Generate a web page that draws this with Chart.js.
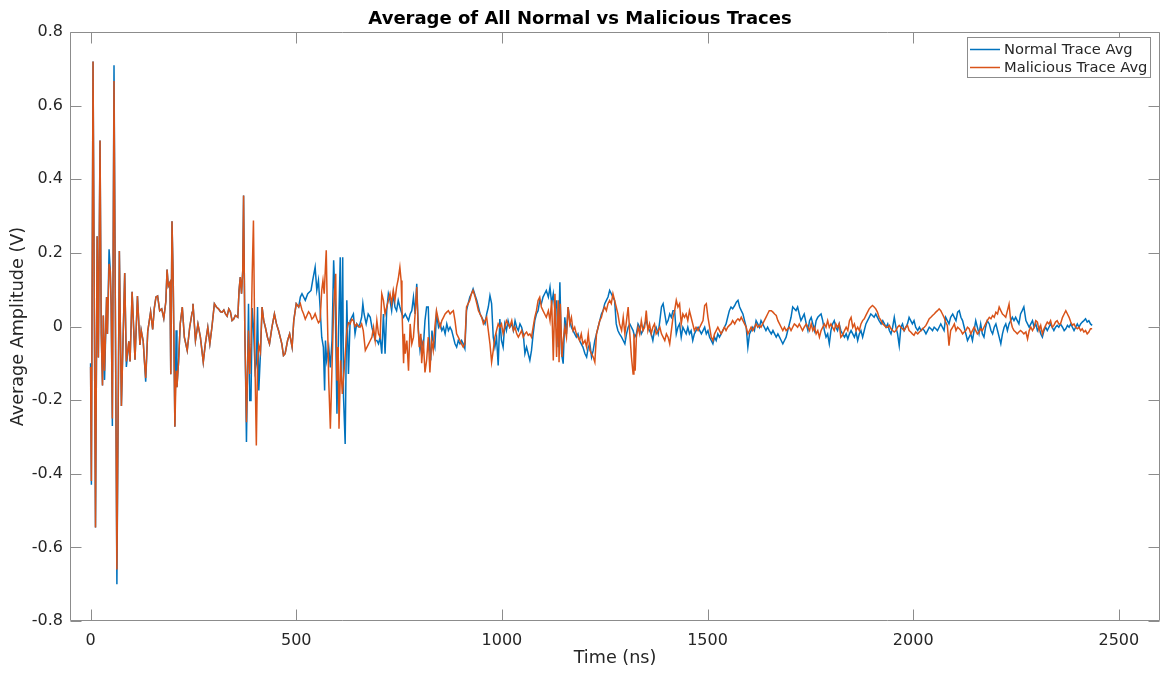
<!DOCTYPE html>
<html>
<head>
<meta charset="utf-8">
<script src="https://cdn.jsdelivr.net/npm/chart.js@4.4.0/dist/chart.umd.min.js"></script>
<style>
html,body{margin:0;padding:0;background:#fff;}
#wrap{width:1161px;height:675px;}
</style>
</head>
<body>
<div id="wrap"><canvas id="c" width="1161" height="675"></canvas></div>
<script>
const xTickValues = [0, 500, 1000, 1500, 2000, 2500];
const yTickValues = [-0.8, -0.6, -0.4, -0.2, 0, 0.2, 0.4, 0.6, 0.8];
const seriesNames = ['Normal Trace Avg', 'Malicious Trace Avg'];

// [time (ns), average amplitude (V)]
const normalTrace = [
[0,-0.10],[2,-0.43],[6,0.72],[12,-0.546],[16,0.245],[19,-0.084],[23,0.505],[26,-0.02],[29,-0.16],[31,0.03],[34,-0.145],[39,0.08],[41,-0.02],[45,0.21],[48,0.15],[50,0.06],[53,-0.27],[57,0.71],[64,-0.70],[70,0.205],[75,-0.216],[83,0.145],[87,-0.11],[93,-0.04],[96,-0.095],[101,0.094],[108,-0.09],[114,0.083],[120,-0.05],[123,-0.01],[128,-0.04],[131,-0.095],[134,-0.15],[139,-0.013],[146,0.04],[151,-0.008],[155,0.05],[159,0.08],[163,0.083],[168,0.043],[173,0.048],[178,0.022],[183,0.068],[186,0.155],[189,0.11],[193,0.12],[195,-0.13],[198,0.286],[201,0.12],[205,-0.272],[208,-0.01],[210,-0.165],[214,-0.095],
[218,0.007],[223,0.053],[228,-0.029],[235,-0.065],[241,-0.002],[247,0.039],[249,0.062],[255,-0.038],[261,0.007],[267,-0.029],[274,-0.097],[279,-0.047],[285,-0.002],[290,-0.047],[295,-0.002],[301,0.062],[306,0.053],[311,0.048],[316,0.04],[320,0.039],[324,0.045],[328,0.034],[332,0.028],[336,0.048],[340,0.04],[344,0.016],[348,0.02],[352,0.030],[358,0.025],[361,0.098],[364,0.134],[367,0.089],[370,0.152],[372,0.356],[375,-0.011],
[377,-0.147],[379,-0.314],[384,0.062],[387,-0.201],[390,-0.201],[393,0.05],[396,0.0],[400,-0.12],[403,-0.1],[406,0.053],[409,-0.174],[413,-0.074],[417,0.053],
[421,0.016],[425,-0.002],[430,-0.029],[435,-0.047],[441,-0.002],[447,0.034],[452,0.007],[457,-0.011],[461,-0.029],[465,-0.047],[469,-0.079],[473,-0.074],[479,-0.038],[484,-0.020],[490,-0.056],[494,0.016],[500,0.062],[506,0.053],
[510,0.080],[514,0.089],[522,0.071],[528,0.089],[536,0.098],[540,0.125],[546,0.161],[550,0.098],[554,0.125],[558,0.053],[562,-0.029],[566,-0.056],[569,-0.174],[571,-0.038],[574,-0.092],[579,-0.056],[583,-0.111],[587,-0.038],[591,0.180],[595,0.053],[599,-0.237],[603,-0.011],[607,0.188],[609,-0.129],[613,0.188],[615,-0.192],[619,-0.319],[623,0.071],[627,-0.129],[631,0.016],[635,0.025],[639,0.034],[643,-0.020],[647,0.007],[651,0.0],
[655,0.007],[659,0.025],[662,0.062],[665,0.034],[670,0.007],[675,0.034],[680,0.025],[684,-0.002],[688,-0.020],[692,-0.038],[696,-0.038],[700,-0.047],[704,-0.029],[708,-0.074],[712,0.034],[716,-0.074],[720,0.043],[724,0.089],[728,0.071],[732,0.043],[736,0.089],[740,0.053],[744,0.043],[748,0.071],[752,0.053],[757,0.034],[761,0.025],[765,0.034],[769,0.025],[773,0.016],[777,0.034],[781,0.043],[785,0.080],[789,0.034],[793,0.116],[797,-0.011],[801,-0.065],[805,-0.038],[809,-0.056],[813,0.016],[817,0.053],[821,0.053],[824,-0.056],[827,-0.092],[830,-0.011],[833,-0.038],[837,-0.056],[841,0.034],[846,-0.002],[850,0.007],[854,-0.011],[858,-0.002],[862,-0.020],[866,0.007],[870,-0.011],[874,-0.002],[878,-0.011],[882,-0.029],[886,-0.047],[890,-0.056],[894,-0.038],[898,-0.047],[902,-0.038],[906,-0.047],[910,-0.06],[914,0.043],[918,0.062],[922,0.080],[926,0.089],[930,0.102],[935,0.084],[939,0.071],[943,0.053],[947,0.034],[951,0.025],[955,0.016],[959,0.007],[963,0.034],[967,0.053],[971,0.084],[975,0.062],[979,-0.029],[983,-0.056],[987,-0.029],[991,-0.106],
[995,0.02],[999,-0.038],[1003,-0.056],[1007,0.007],[1011,-0.011],[1015,0.016],[1019,-0.002],[1024,0.007],[1028,-0.011],[1032,0.016],[1036,-0.002],[1040,-0.011],[1044,0.007],[1048,-0.002],[1052,-0.020],[1056,-0.074],[1060,-0.056],[1064,-0.074],[1068,-0.092],[1072,-0.065],[1076,-0.020],[1080,0.016],[1084,0.034],[1088,0.043],[1092,0.071],[1096,0.062],[1100,0.080],[1104,0.089],[1108,0.098],[1113,0.080],[1117,0.107],[1121,0.062],[1125,0.089],[1129,0.043],[1133,0.071],[1137,-0.056],[1141,0.120],[1145,-0.074],[1149,-0.101],[1153,0.025],[1157,-0.020],[1161,0.053],[1165,0.016],[1169,-0.002],[1173,-0.011],[1177,-0.020],[1181,-0.029],[1185,-0.020],[1189,-0.038],[1193,-0.047],[1197,-0.056],[1202,-0.074],[1206,-0.083],[1210,-0.056],[1214,-0.047],[1218,-0.083],[1222,-0.065],[1226,-0.038],[1230,-0.020],[1234,-0.002],[1238,0.016],[1242,0.034],[1246,0.043],[1250,0.062],[1254,0.071],[1258,0.080],[1262,0.098],[1266,0.089],[1270,0.080],[1274,0.071],[1278,0.007],[1282,-0.011],[1286,-0.020],[1291,-0.029],[1295,-0.038],[1299,-0.047],[1303,-0.020],[1307,-0.002],[1311,0.007],[1315,-0.002],[1319,-0.011],[1323,-0.029],[1327,-0.020],[1331,0.007],[1335,-0.002],[1339,-0.020],[1343,-0.011],[1347,0.007],[1351,0.016],[1355,-0.002],[1359,-0.011],[1363,-0.020],[1367,-0.038],[1371,-0.011],[1375,-0.002],[1380,-0.020],[1384,0.016],[1388,0.053],[1392,0.062],[1396,0.034],[1400,0.007],[1404,0.016],[1408,0.034],[1412,0.025],[1416,0.043],[1420,0.043],[1424,-0.020],[1428,-0.002],[1432,0.007],
[1436,-0.029],[1440,-0.002],[1444,-0.011],[1448,-0.020],[1452,-0.002],[1456,-0.020],[1460,-0.011],[1464,-0.038],[1468,-0.020],[1472,-0.011],[1477,-0.002],[1481,-0.011],[1485,-0.020],[1489,-0.011],[1493,-0.002],[1497,-0.020],[1501,-0.011],[1505,-0.029],[1509,-0.038],[1513,-0.047],[1517,-0.029],[1521,-0.038],[1525,-0.020],[1529,-0.029],[1533,-0.020],[1537,-0.011],[1541,-0.002],[1545,0.007],[1549,0.025],[1553,0.043],[1557,0.053],[1561,0.048],[1566,0.057],[1570,0.066],[1574,0.071],[1578,0.053],[1582,0.043],[1586,0.034],[1590,0.016],[1594,-0.002],[1598,-0.056],[1602,-0.020],[1606,-0.011],[1610,-0.002],[1614,-0.011],[1618,0.016],[1622,0.007],[1626,-0.002],[1630,0.016],[1634,0.007],[1638,-0.002],[1642,-0.011],[1646,-0.002],[1650,-0.011],[1655,-0.020],[1659,-0.011],[1663,-0.020],[1667,-0.029],[1671,-0.020],[1675,-0.029],[1679,-0.038],[1683,-0.047],[1687,-0.038],[1691,-0.029],[1695,-0.011],[1699,0.007],[1703,0.025],[1707,0.053],[1711,0.048],[1715,0.043],[1719,0.053],[1723,0.034],[1727,0.016],[1731,0.025],[1735,0.034],[1740,0.007],[1744,-0.011],[1748,0.016],[1752,0.025],[1756,0.007],[1760,-0.011],[1764,0.016],[1768,0.025],[1772,0.030],[1776,0.034],[1780,0.016],[1784,-0.011],[1788,-0.029],[1792,-0.020],[1796,-0.047],[1800,-0.011],[1804,0.007],[1808,0.016],[1812,-0.002],[1816,-0.011],[1820,0.007],
[1824,-0.011],[1828,-0.020],[1833,-0.029],[1837,-0.020],[1841,-0.034],[1845,-0.020],[1849,-0.011],[1853,-0.020],[1857,-0.029],[1861,-0.015],[1865,-0.038],[1869,-0.020],[1873,-0.011],[1877,-0.029],[1881,-0.011],[1885,0.007],[1889,0.016],[1893,0.025],[1897,0.034],[1901,0.030],[1905,0.025],[1909,0.034],[1913,0.025],[1917,0.016],[1922,0.007],[1926,0.016],[1930,0.007],[1934,-0.002],[1938,0.007],[1942,-0.011],[1946,-0.020],[1950,-0.002],[1954,0.025],[1958,-0.002],[1962,-0.020],[1966,-0.052],[1970,-0.002],[1974,0.007],[1978,-0.011],[1982,-0.002],[1986,0.007],[1990,0.025],[1994,0.016],[1998,0.007],[2002,0.016],[2006,-0.002],[2011,-0.011],[2015,-0.002],[2019,-0.011],[2023,-0.006],[2027,-0.011],[2031,-0.020],[2035,-0.011],[2039,-0.002],[2043,-0.006],[2047,-0.011],[2051,-0.002],[2055,-0.006],[2059,-0.011],[2063,-0.002],[2067,0.007],[2071,-0.002],[2075,-0.011],[2079,0.025],[2083,0.016],[2087,0.007],[2091,0.025],[2096,0.034],[2100,0.025],[2104,0.016],[2108,0.039],[2112,0.043],[2116,0.025],[2120,0.016],[2124,-0.002],[2128,-0.020],[2132,-0.038],[2136,-0.029],[2140,-0.020],[2144,-0.038],[2148,-0.011],[2152,0.016],[2156,-0.002],[2160,-0.020],
[2164,0.007],[2168,-0.020],[2172,-0.029],[2176,-0.002],[2180,0.016],[2185,0.007],[2189,-0.011],[2193,-0.020],[2197,-0.002],[2201,0.007],[2205,-0.011],[2209,-0.029],[2213,-0.047],[2217,-0.020],[2221,-0.002],[2225,0.007],[2229,-0.011],[2233,0.007],[2237,0.016],[2241,0.025],[2245,0.016],[2249,0.025],[2253,0.016],[2257,0.007],[2261,0.034],[2265,0.043],[2269,0.053],[2274,0.016],[2278,0.007],[2282,-0.002],[2286,0.007],[2290,0.016],[2294,-0.002],[2298,0.007],[2302,-0.011],[2306,-0.002],[2310,-0.020],[2314,-0.029],[2318,-0.011],[2322,-0.002],[2326,-0.011],[2330,-0.002],[2334,0.007],[2338,-0.002],[2342,-0.011],[2346,-0.002],[2350,0.003],[2354,-0.002],[2358,0.007],[2363,-0.002],[2367,-0.011],[2371,-0.006],[2375,0.003],[2379,-0.002],[2383,0.007],[2387,-0.002],[2391,-0.011],[2395,-0.002],[2399,0.007],[2403,-0.002],[2407,0.007],[2411,0.012],[2415,0.016],[2419,0.021],[2423,0.012],[2427,0.016],[2431,0.007],[2435,0.003]
];

const maliciousTrace = [
[0,-0.11],[2,-0.42],[6,0.72],[12,-0.546],[16,0.245],[19,-0.084],[23,0.505],[26,-0.02],[29,-0.16],[31,0.03],[34,-0.12],[39,0.08],[41,-0.02],[45,0.17],[48,0.15],[50,0.06],[53,-0.25],[57,0.667],[64,-0.66],[70,0.205],[75,-0.216],[83,0.145],[87,-0.095],[93,-0.04],[96,-0.095],[101,0.094],[108,-0.09],[114,0.083],[120,-0.05],[123,-0.01],[128,-0.04],[131,-0.095],[134,-0.14],[139,-0.013],[146,0.04],[151,-0.008],[155,0.05],[159,0.08],[163,0.083],[168,0.043],[173,0.048],[178,0.022],[183,0.068],[186,0.155],[189,0.11],[193,0.12],[195,-0.13],[198,0.286],[201,0.12],[205,-0.272],[208,-0.12],[210,-0.165],[214,-0.095],
[218,0.007],[223,0.053],[228,-0.029],[235,-0.065],[241,-0.002],[247,0.039],[249,0.062],[255,-0.038],[261,0.007],[267,-0.029],[274,-0.097],[279,-0.047],[285,-0.002],[290,-0.047],[295,-0.002],[301,0.062],[306,0.053],[311,0.048],[316,0.04],[320,0.039],[324,0.045],[328,0.034],[332,0.028],[336,0.048],[340,0.04],[344,0.016],[348,0.02],[352,0.030],[358,0.025],[361,0.098],[364,0.134],[367,0.089],[370,0.152],[372,0.356],[375,-0.011],
[377,-0.129],[379,-0.26],[384,-0.011],[387,-0.129],[390,-0.05],[393,0.143],[396,0.288],[400,-0.12],[403,-0.323],[406,-0.1],[409,-0.05],[413,-0.07],[417,0.053],
[421,0.016],[425,-0.002],[430,-0.029],[435,-0.047],[441,-0.002],[447,0.034],[452,0.007],[457,-0.011],[461,-0.029],[465,-0.047],[469,-0.079],[473,-0.074],[479,-0.038],[484,-0.020],[490,-0.056],[494,0.016],[500,0.062],[506,0.053],
[510,0.062],[514,0.045],[518,0.034],[522,0.02],[526,0.030],[530,0.04],[534,0.034],[538,0.02],[542,0.025],[546,0.035],[550,0.021],[554,0.01],[558,0.016],[562,0.098],[565,0.125],[568,0.089],[573,0.207],[576,0.016],[579,-0.147],[583,-0.278],[587,-0.111],[591,0.053],[596,0.143],[599,-0.147],[602,-0.056],[604,-0.278],[608,-0.092],[612,-0.183],[617,-0.111],[623,-0.011],[627,0.01],[631,0.007],[635,0.02],[639,0.016],[643,0.0],[647,0.007],[651,0.0],
[655,-0.002],[659,0.007],[663,-0.011],[668,-0.065],[672,-0.056],[676,-0.047],[680,-0.038],[684,-0.029],[688,-0.002],[692,-0.038],[696,0.016],[700,-0.020],[704,-0.029],[708,0.089],[712,0.071],[716,0.034],[720,0.053],[724,0.071],[728,0.089],[732,0.062],[736,0.098],[740,0.071],[744,0.107],[748,0.129],[752,0.161],[755,0.125],[757,0.053],[761,-0.1],[763,-0.020],[765,-0.074],[769,-0.038],[773,-0.120],[777,0.007],[781,-0.047],[785,-0.029],[789,0.034],[793,0.107],[796,0.007],[799,-0.056],[803,-0.020],[805,-0.1],[809,-0.038],[813,-0.125],[817,-0.092],[821,-0.029],[825,-0.125],[829,-0.038],[833,-0.065],[837,-0.002],[841,0.043],[846,0.016],[850,-0.002],[854,0.016],[858,0.025],[862,0.034],[866,0.039],[870,0.043],[874,0.034],[878,0.039],[882,0.043],[886,0.016],[890,-0.020],[894,-0.029],[898,-0.038],[902,-0.047],[906,-0.056],[910,-0.047],[914,0.053],[918,0.062],[922,0.071],[926,0.089],[930,0.098],[935,0.080],[939,0.062],[943,0.043],[947,0.034],[951,0.025],[955,0.007],[959,0.016],[963,0.025],[967,-0.011],[971,-0.047],[975,-0.097],[979,-0.065],[983,-0.029],[987,-0.011],[991,0.007],
[995,-0.002],[999,0.007],[1003,-0.020],[1007,-0.002],[1011,0.016],[1015,0.007],[1019,-0.002],[1024,0.016],[1028,-0.011],[1032,-0.002],[1036,-0.020],[1040,-0.029],[1044,-0.020],[1048,-0.011],[1052,-0.029],[1056,-0.020],[1060,-0.015],[1064,-0.024],[1068,-0.020],[1072,-0.029],[1076,-0.002],[1080,0.025],[1084,0.043],[1088,0.071],[1092,0.080],[1096,0.053],[1100,0.043],[1104,0.034],[1108,0.025],[1113,0.043],[1117,0.016],[1121,0.071],[1125,-0.092],[1129,0.089],[1133,-0.083],[1137,0.071],[1139,-0.097],[1142,0.062],[1146,-0.083],[1149,-0.038],[1153,-0.002],[1157,-0.029],[1161,0.053],[1165,0.007],[1169,0.025],[1173,-0.011],[1177,-0.002],[1181,-0.020],[1185,-0.029],[1189,-0.038],[1193,-0.020],[1197,-0.047],[1202,-0.038],[1206,-0.056],[1210,-0.020],[1214,-0.065],[1218,-0.074],[1222,-0.083],[1226,-0.097],[1230,-0.020],[1234,-0.002],[1238,0.016],[1242,0.025],[1246,0.043],[1250,0.053],[1254,0.043],[1258,0.062],[1262,0.071],[1266,0.062],[1270,0.089],[1274,0.071],[1278,0.053],[1282,0.034],[1286,0.007],[1291,-0.011],[1295,0.025],[1299,-0.020],[1303,0.016],[1307,0.053],[1311,-0.020],[1315,-0.083],[1319,-0.129],[1321,-0.020],[1324,-0.120],[1327,-0.029],[1331,-0.002],[1335,-0.020],[1339,0.016],[1343,-0.011],[1347,-0.002],[1351,0.043],[1355,-0.011],[1359,0.007],[1363,-0.020],[1367,-0.002],[1371,0.007],[1375,-0.020],[1380,-0.011],[1384,-0.002],[1388,-0.020],[1392,-0.029],[1396,-0.038],[1400,-0.020],[1404,-0.029],[1408,-0.047],[1412,-0.011],[1416,0.025],[1420,0.043],[1424,0.071],[1428,0.053],[1432,0.062],
[1436,0.007],[1440,0.034],[1444,0.025],[1448,0.034],[1452,0.016],[1456,0.043],[1460,0.025],[1464,0.007],[1468,-0.011],[1472,-0.002],[1477,-0.011],[1481,-0.002],[1485,0.007],[1489,0.016],[1493,0.057],[1497,0.062],[1501,0.025],[1505,-0.002],[1509,-0.029],[1513,-0.038],[1517,-0.020],[1521,-0.011],[1525,-0.002],[1529,-0.011],[1533,-0.020],[1537,-0.011],[1541,-0.002],[1545,-0.011],[1549,-0.002],[1553,0.003],[1557,0.007],[1561,0.016],[1566,0.007],[1570,0.016],[1574,0.021],[1578,0.016],[1582,0.025],[1586,0.016],[1590,0.007],[1594,-0.002],[1598,-0.020],[1602,-0.011],[1606,-0.002],[1610,-0.011],[1614,-0.002],[1618,0.007],[1622,-0.002],[1626,0.003],[1630,-0.002],[1634,0.007],[1638,0.016],[1642,0.025],[1646,0.034],[1650,0.043],[1655,0.043],[1659,0.039],[1663,0.034],[1667,0.030],[1671,0.016],[1675,0.007],[1679,-0.002],[1683,-0.011],[1687,-0.002],[1691,-0.011],[1695,-0.006],[1699,-0.002],[1703,-0.011],[1707,-0.002],[1711,0.007],[1715,0.003],[1719,-0.002],[1723,0.007],[1727,-0.002],[1731,-0.011],[1735,-0.002],[1740,0.007],[1744,-0.002],[1748,-0.011],[1752,0.007],[1756,-0.011],[1760,-0.002],[1764,-0.020],[1768,-0.011],[1772,-0.029],[1776,-0.011],[1780,-0.002],[1784,0.007],[1788,-0.002],[1792,0.016],[1796,-0.002],[1800,0.007],[1804,-0.002],[1808,-0.011],[1812,0.007],[1816,-0.002],[1820,0.007],
[1824,-0.029],[1828,-0.024],[1833,-0.011],[1837,-0.002],[1841,-0.011],[1845,0.016],[1849,0.025],[1853,-0.002],[1857,0.007],[1861,-0.011],[1865,-0.002],[1869,-0.011],[1873,0.007],[1877,0.016],[1881,0.021],[1885,0.030],[1889,0.039],[1893,0.048],[1897,0.053],[1901,0.057],[1905,0.053],[1909,0.048],[1913,0.039],[1917,0.025],[1922,0.016],[1926,0.007],[1930,0.003],[1934,-0.002],[1938,-0.002],[1942,0.003],[1946,-0.006],[1950,-0.011],[1954,-0.015],[1958,-0.011],[1962,-0.002],[1966,0.003],[1970,-0.002],[1974,-0.006],[1978,-0.011],[1982,-0.002],[1986,0.003],[1990,-0.011],[1994,-0.015],[1998,-0.020],[2002,-0.024],[2006,-0.015],[2011,-0.020],[2015,-0.015],[2019,-0.011],[2023,-0.006],[2027,-0.002],[2031,0.003],[2035,0.012],[2039,0.021],[2043,0.025],[2047,0.030],[2051,0.034],[2055,0.039],[2059,0.043],[2063,0.048],[2067,0.043],[2071,0.034],[2075,0.025],[2079,0.012],[2083,0.003],[2087,-0.052],[2091,-0.011],[2096,-0.002],[2100,0.007],[2104,-0.011],[2108,-0.002],[2112,-0.006],[2116,-0.011],[2120,-0.020],[2124,-0.015],[2128,-0.011],[2132,-0.002],[2136,-0.006],[2140,-0.020],[2144,-0.011],[2148,-0.002],[2152,-0.011],[2156,-0.020],[2160,-0.015],
[2164,-0.006],[2168,-0.011],[2172,-0.002],[2176,0.007],[2180,0.016],[2185,0.025],[2189,0.021],[2193,0.030],[2197,0.025],[2201,0.039],[2205,0.034],[2209,0.053],[2213,0.043],[2217,0.034],[2221,0.030],[2225,0.025],[2229,0.043],[2233,0.061],[2237,0.016],[2241,-0.002],[2245,-0.011],[2249,-0.015],[2253,-0.020],[2257,-0.015],[2261,-0.011],[2265,-0.015],[2269,-0.020],[2274,-0.015],[2278,-0.034],[2282,-0.011],[2286,-0.002],[2290,-0.011],[2294,-0.002],[2298,0.016],[2302,0.012],[2306,-0.011],[2310,0.003],[2314,-0.020],[2318,-0.006],[2322,0.003],[2326,0.012],[2330,0.007],[2334,0.016],[2338,-0.002],[2342,0.003],[2346,0.012],[2350,0.016],[2354,0.007],[2358,0.007],[2363,0.025],[2367,0.034],[2371,0.043],[2375,0.034],[2379,0.025],[2383,0.012],[2387,0.003],[2391,0.007],[2395,-0.002],[2399,-0.006],[2403,-0.002],[2407,-0.011],[2411,-0.006],[2415,-0.015],[2419,-0.011],[2423,-0.020],[2427,-0.015],[2431,-0.006],[2435,-0.006]
];

const FONT = 'DejaVu Sans';
const TEXT = '#262626';
const AXIS = 'rgb(140,140,140)';
const BLUE = '#0072BD';
const ORANGE = '#D95319';

const toXY = arr => arr.map(p => ({x: p[0], y: p[1]}));

function fmt(v) {
  const r = Math.round(v * 10) / 10;
  return r === 0 ? '0' : String(r);
}

const matlabBox = {
  id: 'matlabBox',
  afterDatasetsDraw(chart) {
    const {ctx, chartArea: a, scales} = chart;
    const L = Math.round(a.left) + 0.5, R = Math.round(a.right) - 0.5;
    const T = Math.round(a.top) + 0.5, B = Math.round(a.bottom) - 0.5;
    const tl = 11;
    ctx.save();
    ctx.strokeStyle = AXIS;
    ctx.lineWidth = 1;
    ctx.beginPath();
    ctx.rect(L, T, R - L, B - T);
    xTickValues.forEach(v => {
      const px = Math.round(scales.x.getPixelForValue(v)) + 0.5;
      ctx.moveTo(px, B); ctx.lineTo(px, B - tl);
      ctx.moveTo(px, T); ctx.lineTo(px, T + tl);
    });
    yTickValues.forEach(v => {
      const py = Math.round(scales.y.getPixelForValue(v)) + 0.5;
      ctx.moveTo(L, py); ctx.lineTo(L + tl, py);
      ctx.moveTo(R, py); ctx.lineTo(R - tl, py);
    });
    ctx.stroke();
    ctx.restore();
  },
  afterDraw(chart) {
    const {ctx, chartArea: a} = chart;
    const fontSize = 14.7;
    ctx.save();
    ctx.font = fontSize + 'px "' + FONT + '"';
    const tw = Math.max(...seriesNames.map(s => ctx.measureText(s).width));
    const lineLen = 30, m = 3, gap = 4;
    const w = Math.round(m + lineLen + gap + tw + 3);
    const h = 40;
    const x0 = Math.round(a.right) - 10 - w;
    const y0 = Math.round(a.top) + 5;
    ctx.fillStyle = '#fff';
    ctx.fillRect(x0, y0, w, h);
    ctx.strokeStyle = AXIS;
    ctx.lineWidth = 1;
    ctx.strokeRect(x0 + 0.5, y0 + 0.5, w, h);
    const rows = [y0 + 12, y0 + 30];
    const cols = [BLUE, ORANGE];
    rows.forEach((ry, i) => {
      ctx.strokeStyle = cols[i];
      ctx.lineWidth = 1.5;
      ctx.beginPath();
      ctx.moveTo(x0 + m, ry + 0.5);
      ctx.lineTo(x0 + m + lineLen, ry + 0.5);
      ctx.stroke();
      ctx.fillStyle = TEXT;
      ctx.textAlign = 'left';
      ctx.textBaseline = 'middle';
      ctx.fillText(seriesNames[i], x0 + m + lineLen + gap, ry + 1);
    });
    ctx.restore();
  }
};

new Chart(document.getElementById('c'), {
  type: 'line',
  data: {
    datasets: [
      {label: seriesNames[0], data: toXY(normalTrace), borderColor: BLUE, borderWidth: 1.5, pointRadius: 0, tension: 0, fill: false, order: 1},
      {label: seriesNames[1], data: toXY(maliciousTrace), borderColor: ORANGE, borderWidth: 1.5, pointRadius: 0, tension: 0, fill: false, order: 0}
    ]
  },
  options: {
    responsive: false,
    animation: false,
    devicePixelRatio: 1,
    events: [],
    layout: {padding: {left: 0, right: 1, top: 0, bottom: 0}},
    plugins: {
      legend: {display: false},
      tooltip: {enabled: false},
      title: {
        display: true,
        text: 'Average of All Normal vs Malicious Traces',
        color: '#000',
        font: {family: FONT, size: 18, weight: 'bold', lineHeight: 1.2},
        padding: {top: 9, bottom: 1.4}
      }
    },
    scales: {
      x: {
        type: 'linear',
        min: -50, max: 2600,
        afterBuildTicks: s => { s.ticks = xTickValues.map(v => ({value: v})); },
        afterFit: s => { s.height = 54; },
        grid: {display: false, drawTicks: false},
        border: {display: false},
        ticks: {color: TEXT, font: {family: FONT, size: 16}, padding: 10, maxRotation: 0, autoSkip: false, callback: v => String(v)},
        title: {display: true, text: 'Time (ns)', color: TEXT, font: {family: FONT, size: 17.6}, padding: {top: 0, bottom: 6}}
      },
      y: {
        type: 'linear',
        min: -0.8, max: 0.8,
        afterBuildTicks: s => { s.ticks = yTickValues.map(v => ({value: v})); },
        afterFit: s => { s.width = 70; },
        grid: {display: false, drawTicks: false},
        border: {display: false},
        ticks: {color: TEXT, font: {family: FONT, size: 16}, padding: 7, autoSkip: false, callback: v => fmt(v)},
        title: {display: true, text: 'Average Amplitude (V)', color: TEXT, font: {family: FONT, size: 17.6}, padding: {top: 8, bottom: 0}}
      }
    }
  },
  plugins: [matlabBox]
});
</script>
</body>
</html>
